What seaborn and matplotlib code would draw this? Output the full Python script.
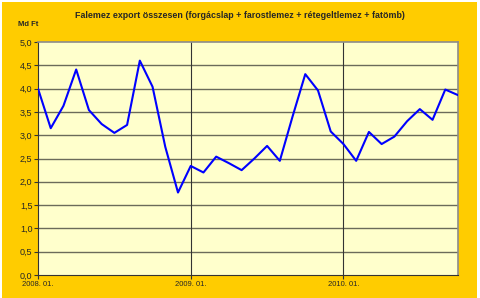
import matplotlib
matplotlib.use("Agg")
import matplotlib.pyplot as plt
import seaborn as sns
import pandas as pd
from matplotlib.patches import Rectangle
from matplotlib.ticker import FuncFormatter, MultipleLocator

title = "Falemez export összesen (forgácslap + farostlemez + rétegeltlemez + fatömb)"
unit_label = "Md Ft"
month_index = list(range(34))
values = [4.00, 3.15, 3.63, 4.41, 3.54, 3.24, 3.05, 3.22, 4.60, 4.04,
          2.75, 1.77, 2.34, 2.20, 2.54, 2.40, 2.25, 2.50, 2.77, 2.45,
          3.40, 4.31, 3.96, 3.08, 2.81, 2.45, 3.07, 2.81, 2.97, 3.30,
          3.56, 3.33, 3.98, 3.86]
tick_positions = [0, 12, 24]
tick_labels = ["2008. 01.", "2009. 01.", "2010. 01."]

df = pd.DataFrame({"month": month_index, "value": values})

sns.set_style("white")
plt.rcParams["font.family"] = ["Liberation Sans", "DejaVu Sans"]

fig = plt.figure(figsize=(4.8, 2.98), dpi=100)
fig.patch.set_facecolor("white")
bg = Rectangle((2 / 480, 0), 475 / 480, 296 / 298,
               transform=fig.transFigure, facecolor="#FFCC00",
               edgecolor="none", zorder=-10)
fig.add_artist(bg)

ax = fig.add_axes([38 / 480, 23 / 298, 420 / 480, 233 / 298])
ax.set_facecolor("#FFFFCC")

sns.lineplot(data=df, x="month", y="value", ax=ax, color="#0000FF", linewidth=1.5, zorder=3)

ax.set_xlim(0, 33)
ax.set_ylim(0, 5)
ax.yaxis.set_major_locator(MultipleLocator(0.5))
ax.yaxis.set_major_formatter(FuncFormatter(lambda v, p: f"{v:.1f}".replace(".", ",")))
ax.set_xticks(tick_positions)
ax.set_xticklabels(tick_labels)

ax.grid(False)
for yv in [0.5 * i for i in range(1, 10)]:
    ax.axhline(yv, color="#6B6B5A", linewidth=1.0, zorder=1)
for xv in tick_positions[1:]:
    ax.axvline(xv, color="#333333", linewidth=0.8, zorder=1)

for s in ["top", "right"]:
    ax.spines[s].set_color("#8C8C8C")
    ax.spines[s].set_linewidth(1.2)
for s in ["left", "bottom"]:
    ax.spines[s].set_color("#333333")
    ax.spines[s].set_linewidth(0.8)

ax.tick_params(axis="y", labelsize=6.5, length=3, width=0.8, color="#333333", pad=1, direction="out", left=True)
ax.tick_params(axis="x", labelsize=5.5, length=3, width=0.8, color="#333333", pad=1, direction="out", bottom=True)
ax.set_xlabel("")
ax.set_ylabel("")

fig.text(240 / 480, 1 - 16 / 298, title, ha="center", va="center", fontsize=6.4, fontweight="bold")
fig.text(18 / 480, 1 - 25 / 298, unit_label, ha="left", va="center", fontsize=5.5, fontweight="bold")

fig.savefig("out.png", dpi=100)
